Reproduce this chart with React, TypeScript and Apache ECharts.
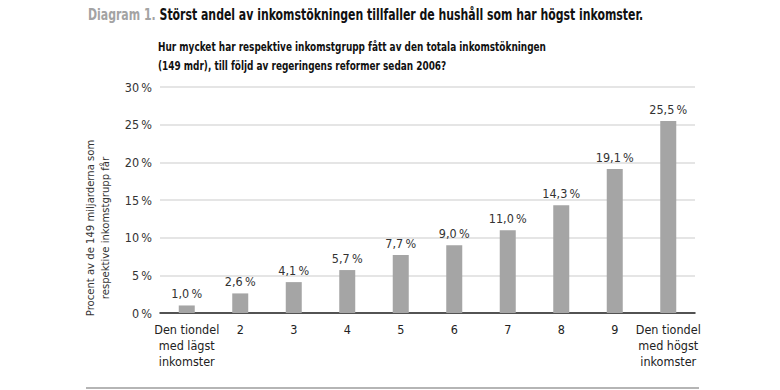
import React, { useEffect, useRef } from "react";
import * as echarts from "echarts";

const categories = [
  "Den tiondel\nmed lägst\ninkomster",
  "2",
  "3",
  "4",
  "5",
  "6",
  "7",
  "8",
  "9",
  "Den tiondel\nmed högst\ninkomster",
];
const values = [1.0, 2.6, 4.1, 5.7, 7.7, 9.0, 11.0, 14.3, 19.1, 25.5];
const yTicks = { min: 0, max: 30, interval: 5 };

const FONT = "'Liberation Sans Narrow', 'DejaVu Sans Condensed', Roboto, sans-serif";

export default function App() {
  const ref = useRef<HTMLDivElement>(null);
  useEffect(() => {
    document.body.style.margin = "0";
    const chart = echarts.init(ref.current!, null, { renderer: "svg" });
    chart.setOption({
      animation: false,
      textStyle: { fontFamily: FONT },
      grid: { left: 160, right: 85, top: 87, bottom: 77 },
      xAxis: {
        type: "category",
        data: categories,
        axisLine: { lineStyle: { color: "#222", width: 1.5 } },
        axisTick: { show: false },
        axisLabel: {
          color: "#222",
          fontFamily: FONT,
          fontSize: 12.5,
          lineHeight: 16,
          margin: 8,
          interval: 0,
        },
      },
      yAxis: {
        type: "value",
        min: yTicks.min,
        max: yTicks.max,
        interval: yTicks.interval,
        axisLine: { show: false },
        axisTick: { show: false },
        splitLine: { lineStyle: { color: "#dddddd", width: 1.5 } },
        axisLabel: {
          color: "#333",
          fontFamily: FONT,
          fontSize: 12.5,
          margin: 8,
          formatter: (v: number) => `${v}\u2009%`,
        },
      },
      series: [
        {
          type: "bar",
          data: values,
          barWidth: 16,
          itemStyle: { color: "#a5a5a5" },
          label: {
            show: true,
            position: "top",
            distance: 5,
            color: "#333",
            fontFamily: FONT,
            fontSize: 12.5,
            formatter: (p: any) => `${p.value.toFixed(1).replace(".", ",")}\u2009%`,
          },
        },
      ],
      graphic: [
        {
          type: "text",
          x: 88,
          y: 15,
          scaleX: 0.81,
          style: {
            text: "{a|Diagram 1.} {b|Störst andel av inkomstökningen tillfaller de hushåll som har högst inkomster.}",
            fontFamily: FONT,
            fontSize: 15,
            fontWeight: "bold",
            verticalAlign: "middle",
            rich: {
              a: { fontFamily: FONT, fontSize: 15, fontWeight: "bold", fill: "#a3a3a3" },
              b: { fontFamily: FONT, fontSize: 15, fontWeight: "bold", fill: "#111" },
            },
          },
        },
        {
          type: "text",
          x: 158,
          y: 38,
          scaleX: 0.8,
          style: {
            text: "Hur mycket har respektive inkomstgrupp fått av den totala inkomstökningen\n(149 mdr), till följd av regeringens reformer sedan 2006?",
            fontFamily: FONT,
            fontSize: 12.4,
            fontWeight: "bold",
            fill: "#111",
            lineHeight: 19,
          },
        },
        {
          type: "text",
          x: 98,
          y: 228,
          rotation: Math.PI / 2,
          style: {
            text: "Procent av de 149 miljarderna som\nrespektive inkomstgrupp får",
            fontFamily: FONT,
            fontSize: 11.2,
            lineHeight: 15,
            fill: "#333",
            align: "center",
            verticalAlign: "middle",
          },
        },
        {
          type: "line",
          shape: { x1: 86, y1: 388, x2: 699, y2: 388 },
          style: { stroke: "#b5b5b5", lineWidth: 2 },
        },
      ],
    });
    return () => chart.dispose();
  }, []);
  return <div ref={ref} style={{ width: 780, height: 390 }} />;
}
